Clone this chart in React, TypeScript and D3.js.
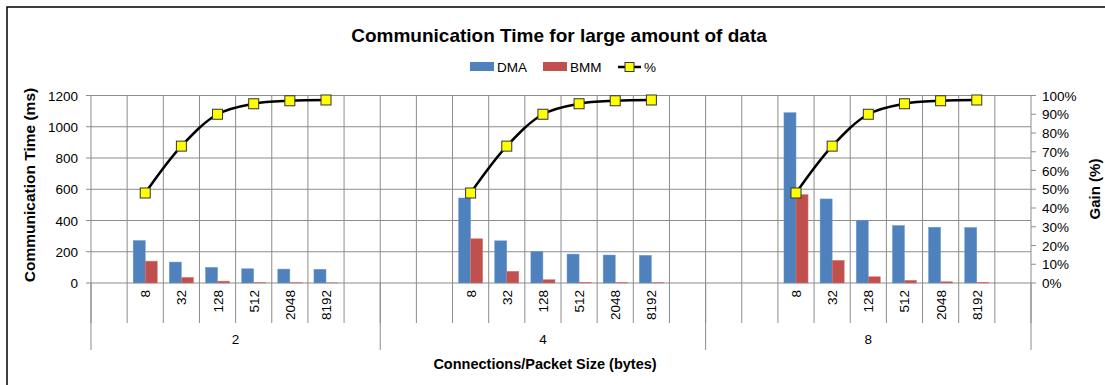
import React from 'react';
import * as d3 from 'd3';

// connections groups and packet sizes
const groups = ['2', '4', '8'];
const packetSizes = ['8', '32', '128', '512', '2048', '8192'];
// empty category slots before / after each group's packet sizes
const leadingBlanks = [1, 2, 2];
const trailingBlanks = [1, 1, 1];

const dma2 = [272, 134, 100, 91, 89, 88];
const bmm2 = [140, 36, 12, 3, 2, 1];
const dma4 = [544, 270, 202, 185, 179, 177];
const bmm4 = [283, 75, 21, 5, 3, 2];
const dma8 = [1090, 538, 402, 368, 357, 355];
const bmm8 = [566, 145, 40, 17, 8, 5];
const gain2 = [48, 73, 90, 95.6, 97.2, 97.6];
const gain4 = [48, 73, 90, 95.6, 97.2, 97.6];
const gain8 = [48, 73, 90, 95.6, 97.2, 97.6];

const leftTicks = [0, 200, 400, 600, 800, 1000, 1200];
const rightTicks = [0, 10, 20, 30, 40, 50, 60, 70, 80, 90, 100];

const dmaByGroup = [dma2, dma4, dma8];
const bmmByGroup = [bmm2, bmm4, bmm8];
const gainByGroup = [gain2, gain4, gain8];

const FONT = '"Liberation Sans", Arial, sans-serif';
const GRID = '#8c8c8c';
const DMA_COLOR = '#4f81bd';
const BMM_COLOR = '#c0504d';

type Cat = { key: string; group: number; label: string; idx: number };

export default function App() {
  const width = 1105, height = 385;
  const margin = { top: 95.5, left: 91, right: 1031, bottom: 283 };

  // build the flat category list
  const cats: Cat[] = [];
  groups.forEach((g, gi) => {
    for (let i = 0; i < leadingBlanks[gi]; i++) cats.push({ key: g + '-a' + i, group: gi, label: '', idx: -1 });
    packetSizes.forEach((p, pi) => cats.push({ key: g + '-' + p, group: gi, label: p, idx: pi }));
    for (let i = 0; i < trailingBlanks[gi]; i++) cats.push({ key: g + '-z' + i, group: gi, label: '', idx: -1 });
  });

  const x = d3.scaleBand<string>().domain(cats.map(c => c.key)).range([margin.left, margin.right]).padding(0);
  const sub = d3.scaleBand<string>().domain(['DMA', 'BMM']).range([0, x.bandwidth()]).paddingInner(0).paddingOuter(0.5);
  const y = d3.scaleLinear().domain([0, 1200]).range([margin.bottom, margin.top]);
  const y2 = d3.scaleLinear().domain([0, 100]).range([margin.bottom, margin.top]);

  const line = d3.line<[number, number]>()
    .x(d => d[0]).y(d => d[1])
    .curve(d3.curveCatmullRom.alpha(0.5));

  const boundaries = cats.map(c => x(c.key) as number).concat([margin.right]);
  const groupEdges: number[] = [margin.left];
  groups.forEach((g, gi) => {
    const last = cats.filter(c => c.group === gi);
    const lk = last[last.length - 1].key;
    groupEdges.push((x(lk) as number) + x.bandwidth());
  });

  return (
    <svg width={width} height={height} style={{ position: 'absolute', left: 0, top: 0, background: '#fff' }}
      fontFamily={FONT}>
      <rect x={7} y={7} width={1120} height={400} fill="#fff" stroke="#000" strokeWidth={1.5} />

      <text x={559} y={42} textAnchor="middle" fontSize={19} fontWeight="bold">
        Communication Time for large amount of data
      </text>

      {/* legend */}
      <g fontSize={13.5}>
        <rect x={470} y={62} width={24} height={9} fill={DMA_COLOR} />
        <text x={497} y={72}>DMA</text>
        <rect x={543} y={62} width={24} height={9} fill={BMM_COLOR} />
        <text x={570} y={72}>BMM</text>
        <line x1={618} x2={641} y1={67} y2={67} stroke="#000" strokeWidth={2.5} />
        <rect x={625} y={62.5} width={9} height={9} fill="#ffff00" stroke="#333" strokeWidth={1} />
        <text x={644} y={72}>%</text>
      </g>

      {/* grid */}
      <g stroke={GRID} strokeWidth={1}>
        {leftTicks.map(t => (
          <line key={'h' + t} x1={margin.left - 5} x2={margin.right} y1={y(t)} y2={y(t)} />
        ))}
        {boundaries.map((b, i) => (
          <line key={'v' + i} x1={b} x2={b} y1={margin.top} y2={margin.bottom + 40} />
        ))}
        {groupEdges.map((b, i) => (
          <line key={'g' + i} x1={b} x2={b} y1={margin.bottom} y2={margin.bottom + 67} />
        ))}
        {rightTicks.map(t => (
          <line key={'r' + t} x1={margin.right} x2={margin.right + 5} y1={y2(t)} y2={y2(t)} />
        ))}
      </g>

      {/* bars */}
      {groups.map((g, gi) => (
        <g key={'bars' + g}>
          {packetSizes.map((p, pi) => {
            const x0 = x(g + '-' + p) as number;
            const vd = dmaByGroup[gi][pi];
            const vb = bmmByGroup[gi][pi];
            return (
              <g key={p}>
                <rect x={x0 + (sub('DMA') as number)} y={y(vd)} width={sub.bandwidth()} height={y(0) - y(vd)}
                  fill={DMA_COLOR} stroke="#6f9bd1" strokeWidth={0.5} />
                <rect x={x0 + (sub('BMM') as number)} y={y(vb)} width={sub.bandwidth()} height={y(0) - y(vb)}
                  fill={BMM_COLOR} stroke="#d47a77" strokeWidth={0.5} />
              </g>
            );
          })}
        </g>
      ))}

      {/* gain line */}
      {groups.map((g, gi) => {
        const pts: [number, number][] = packetSizes.map((p, pi) =>
          [(x(g + '-' + p) as number) + x.bandwidth() / 2, y2(gainByGroup[gi][pi])]);
        return (
          <g key={'gain' + g}>
            <path d={line(pts) || ''} fill="none" stroke="#000" strokeWidth={2.5} />
            {pts.map((pt, i) => (
              <rect key={i} x={pt[0] - 5} y={pt[1] - 5} width={10} height={10} fill="#ffff00" stroke="#333" strokeWidth={1} />
            ))}
          </g>
        );
      })}

      {/* left axis labels */}
      <g fontSize={13.5} textAnchor="end">
        {leftTicks.map(t => (
          <text key={t} x={78} y={y(t) + 5}>{t}</text>
        ))}
      </g>
      {/* right axis labels */}
      <g fontSize={13.5}>
        {rightTicks.map(t => (
          <text key={t} x={1042} y={y2(t) + 5}>{t + '%'}</text>
        ))}
      </g>

      {/* category labels */}
      <g fontSize={13.5}>
        {cats.filter(c => c.label).map(c => {
          const cx = (x(c.key) as number) + x.bandwidth() / 2 + 5;
          return (
            <text key={c.key} transform={`translate(${cx},290) rotate(-90)`} textAnchor="end">{c.label}</text>
          );
        })}
        {groups.map((g, gi) => (
          <text key={g} x={(groupEdges[gi] + groupEdges[gi + 1]) / 2} y={344} textAnchor="middle">{g}</text>
        ))}
      </g>

      {/* axis titles */}
      <text transform="translate(35,185) rotate(-90)" textAnchor="middle" fontSize={15.5} fontWeight="bold">
        Communication Time (ms)
      </text>
      <text transform="translate(1100,189) rotate(-90)" textAnchor="middle" fontSize={15} fontWeight="bold">
        Gain (%)
      </text>
      <text x={545} y={369} textAnchor="middle" fontSize={14.5} fontWeight="bold">
        Connections/Packet Size (bytes)
      </text>
    </svg>
  );
}
